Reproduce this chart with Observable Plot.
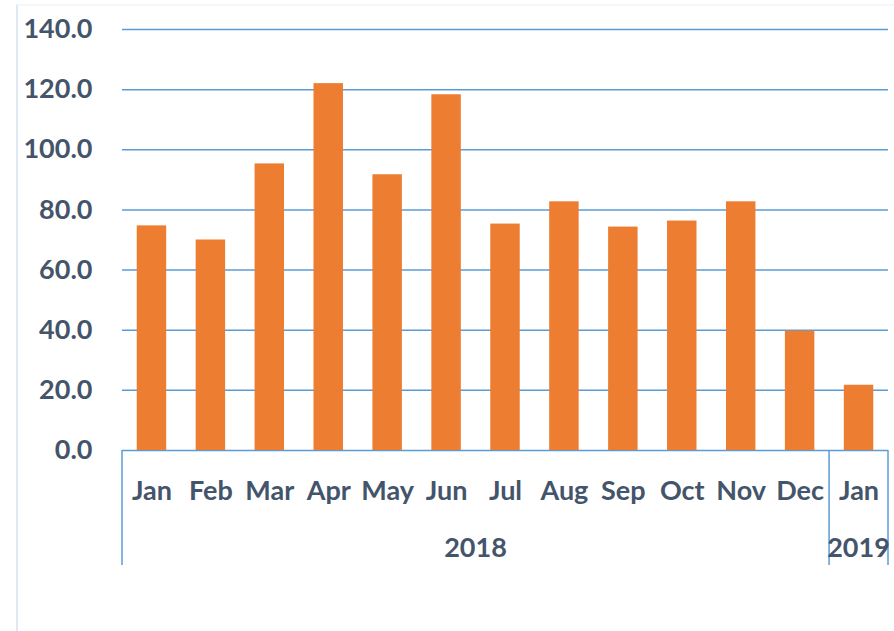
<!DOCTYPE html>
<html>
<head>
<meta charset="utf-8">
<script src="https://cdn.jsdelivr.net/npm/d3@7"></script>
<script src="https://cdn.jsdelivr.net/npm/@observablehq/plot@0.6"></script>
<style>
  body { margin: 0; background: #fff; }
  #chart { position: relative; width: 894px; height: 631px; overflow: hidden; }
  #frame { position: absolute; left: 16px; top: 4px; width: 900px; height: 640px;
           border-left: 2px solid #dfe9f4; border-top: 2px solid #f3f6fb; pointer-events: none; }
  #chart svg { position: absolute; left: 0; top: 0; }
</style>
</head>
<body>
<div id="chart"><div id="frame"></div></div>
<script>
// ---- data ----
const monthLabels = ["Jan","Feb","Mar","Apr","May","Jun","Jul","Aug","Sep","Oct","Nov","Dec","Jan"];
const yearLabels  = ["2018","2018","2018","2018","2018","2018","2018","2018","2018","2018","2018","2018","2019"];
const values      = [74.7, 70.0, 95.3, 122.0, 91.7, 118.3, 75.3, 82.7, 74.3, 76.3, 82.7, 39.7, 21.7];
const yTicks      = [0, 20, 40, 60, 80, 100, 120, 140];

const data = values.map((v, i) => ({key: i, month: monthLabels[i], year: yearLabels[i], value: v}));
const groups = d3.groups(data, d => d.year).map(([year, rows]) => ({
  year, first: rows[0].key, last: rows[rows.length - 1].key
}));

const axisColor = "#5b9bd5";
const textColor = "#44546a";

function yearAxis(index, scales, values, dims) {
  const x = scales.x;
  const n = data.length;
  const step = x(1) - x(0);
  const bw = typeof x.bandwidth === "function" ? x.bandwidth() : (x.bandwidth ?? step * 0.5);
  const y0 = dims.height - dims.marginBottom;
  const left = k => k === 0 ? dims.marginLeft : (x(k - 1) + bw + x(k)) / 2;
  const right = k => k === n - 1 ? dims.width - dims.marginRight : (x(k) + bw + x(k + 1)) / 2;
  const g = d3.create("svg:g");
  const edges = new Set();
  groups.forEach(gr => { edges.add(left(gr.first)); edges.add(right(gr.last)); });
  for (const ex of edges) {
    g.append("line").attr("x1", ex).attr("x2", ex).attr("y1", y0).attr("y2", y0 + 115)
      .attr("stroke", axisColor).attr("stroke-width", 1.5);
  }
  groups.forEach(gr => {
    g.append("text")
      .attr("x", (left(gr.first) + right(gr.last)) / 2)
      .attr("y", y0 + 107)
      .attr("text-anchor", "middle")
      .attr("fill", textColor)
      .attr("font-size", 27)
      .attr("font-weight", "bold")
      .text(gr.year);
  });
  return g.node();
}

const chart = Plot.plot({
  width: 894,
  height: 631,
  marginLeft: 122,
  marginRight: 6,
  marginTop: 29,
  marginBottom: 181,
  style: {fontFamily: "Lato", fontSize: "27px", fontWeight: "bold", color: textColor, background: "transparent"},
  x: {domain: d3.range(data.length), paddingInner: 0.5, paddingOuter: 0.25, round: false},
  y: {domain: [0, 140]},
  marks: [
    Plot.gridY(yTicks, {stroke: axisColor, strokeOpacity: 1, strokeWidth: 1.5}),
    Plot.barY(data, {x: "key", y: "value", fill: "#ed7d31"}),
    Plot.axisY({ticks: yTicks, tickFormat: d => d.toFixed(1), tickSize: 0, tickPadding: 30,
                fontSize: 27, fontWeight: "bold", label: null}),
    Plot.axisX({tickFormat: i => monthLabels[i], tickSize: 0, tickPadding: 30,
                fontSize: 27, fontWeight: "bold", label: null}),
    yearAxis
  ]
});
document.getElementById("chart").appendChild(chart);
</script>
</body>
</html>
